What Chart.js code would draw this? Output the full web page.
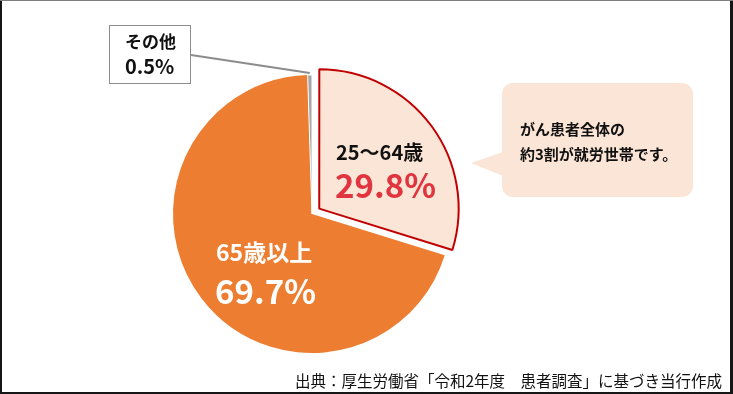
<!DOCTYPE html>
<html>
<head>
<meta charset="utf-8">
<script src="https://cdn.jsdelivr.net/npm/chart.js@4"></script>
<style>
  html, body { margin: 0; padding: 0; background: #fff; }
  canvas { display: block; }
</style>
</head>
<body>
<canvas id="ageChart" width="733" height="394"></canvas>
<script>
// DATA
const categories = ['25～64歳', '65歳以上', 'その他'];
const shares = [29.8, 69.7, 0.5];
const sliceColors = ['#fbe5d6', '#ed7d31', '#a6a6a6'];
const bubbleLines = ['がん患者全体の', '約3割が就労世帯です。'];
const sourceNote = '出典：厚生労働省「令和2年度　患者調査」に基づき当行作成';

const FONT = '"Noto Sans CJK JP", "Noto Sans", sans-serif';

function pct(i) {
  return shares[i].toFixed(1) + '%';
}

// text, callout box, speech bubble and frame
const annotations = {
  id: 'annotations',
  afterDraw(chart) {
    const ctx = chart.ctx;
    const arcs = chart.getDatasetMeta(0).data;
    ctx.save();
    ctx.textBaseline = 'middle';
    ctx.textAlign = 'left';

    // 25-64 slice labels
    ctx.fillStyle = '#111';
    ctx.font = 'bold 20px ' + FONT;
    ctx.fillText(categories[0], 336, 152);
    ctx.fillStyle = '#e0343f';
    ctx.font = 'bold 33px ' + FONT;
    ctx.fillText(pct(0), 335, 185);

    // 65+ slice labels
    ctx.fillStyle = '#fff';
    ctx.font = 'bold 23px ' + FONT;
    ctx.fillText(categories[1], 216, 252);
    ctx.font = 'bold 33px ' + FONT;
    ctx.fillText(pct(1), 215, 291);

    // その他 callout with leader line to the tiny slice
    const other = arcs[2];
    const mid = (other.startAngle + other.endAngle) / 2;
    const tipX = other.x + Math.cos(mid) * other.outerRadius;
    const tipY = other.y + Math.sin(mid) * other.outerRadius;
    ctx.strokeStyle = '#8c8c8c';
    ctx.lineWidth = 2;
    ctx.beginPath();
    ctx.moveTo(191, 55);
    ctx.lineTo(tipX, tipY - 2);
    ctx.stroke();

    ctx.fillStyle = '#fff';
    ctx.fillRect(109.5, 25.5, 81, 58);
    ctx.strokeStyle = '#8c8c8c';
    ctx.lineWidth = 1;
    ctx.strokeRect(109.5, 25.5, 81, 58);
    ctx.fillStyle = '#111';
    ctx.font = 'bold 17px ' + FONT;
    ctx.fillText(categories[2], 125, 42);
    ctx.font = 'bold 20px ' + FONT;
    ctx.fillText(pct(2), 125, 66);

    // speech bubble
    ctx.fillStyle = '#fbe5d6';
    ctx.beginPath();
    ctx.roundRect(502, 83, 191, 114, 11);
    ctx.fill();
    ctx.beginPath();
    ctx.moveTo(503, 152);
    ctx.lineTo(471, 163);
    ctx.lineTo(503, 176);
    ctx.closePath();
    ctx.fill();
    ctx.fillStyle = '#111';
    ctx.font = 'bold 15px ' + FONT;
    ctx.fillText(bubbleLines[0], 520, 129);
    ctx.fillText(bubbleLines[1], 520, 154);

    // source
    ctx.font = '15.5px ' + FONT;
    ctx.textAlign = 'right';
    ctx.fillText(sourceNote, 722, 381);

    // frame
    ctx.fillStyle = '#7f7f7f';
    ctx.fillRect(0, 0, 733, 1);
    ctx.fillStyle = '#161616';
    ctx.fillRect(0, 1, 2, 393);
    ctx.fillRect(730, 1, 3, 393);
    ctx.fillRect(0, 392, 733, 2);
    ctx.restore();
  }
};

new Chart(document.getElementById('ageChart'), {
  type: 'pie',
  data: {
    labels: categories,
    datasets: [{
      data: shares,
      backgroundColor: sliceColors,
      borderColor: ['#c00000', '#ffffff', '#ffffff'],
      borderWidth: [2, 0, 1],
      offset: [36, 0, 0],
    }],
  },
  options: {
    responsive: false,
    animation: false,
    layout: {
      // the offset slice takes offset/2 off the radius
      padding: { left: 154, right: 263, top: 56, bottom: 22 },
    },
    plugins: {
      legend: { display: false },
      tooltip: { enabled: false },
    },
  },
  plugins: [annotations],
});
</script>
</body>
</html>
